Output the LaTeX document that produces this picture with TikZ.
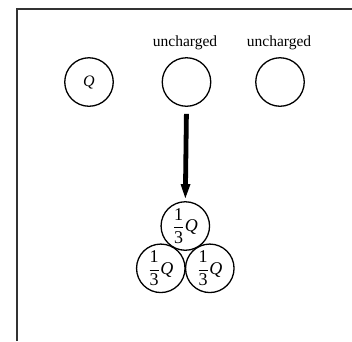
\documentclass[tikz,border=0pt]{standalone}
\usepackage{fontspec}
\setmainfont{Liberation Serif}
\usetikzlibrary{arrows.meta}
\tikzset{
  ball/.style={circle, draw, line width=1.3pt, minimum size=48.5pt, inner sep=0pt, font=\fontsize{15}{17}\selectfont},
  lbl/.style={font=\fontsize{15.5}{18}\selectfont, inner sep=0pt},
  frame/.style={line width=2pt, draw=black!80},
  bigarrow/.style={line width=4.8pt, -{Triangle[width=10pt,length=14pt,line width=0pt]}}
}
\newcommand{\third}{\fontsize{18}{20}\selectfont$\displaystyle\frac{\mbox{1}}{\mbox{3}}$\kern0.5pt\textit{Q}}
\begin{document}
\begin{tikzpicture}[x=1pt,y=-1pt]
\useasboundingbox (0,0) rectangle (352,341);
\coordinate (fa) at (16.5,341);
\coordinate (fb) at (16.5,9);
\coordinate (fc) at (352,9);
\draw[frame] (fa) -- (fb) -- (fc);
\node[ball] (q1) at (89,82) {\fontsize{16}{18}\selectfont\textit{Q}};
\node[ball] (q2) at (186.5,82) {};
\node[ball] (q3) at (280,82) {};
\node[lbl] (u2) at (185,43) {uncharged};
\node[lbl] (u3) at (279,43) {uncharged};
\node[ball] (b1) at (185.3,226) {\third};
\node[ball] (b2) at (160.8,268.3) {\third};
\node[ball] (b3) at (209.8,268.3) {\third};
\draw[bigarrow, shorten <=7pt, shorten >=3pt] (q2.south) -- (b1.north);
\end{tikzpicture}
\end{document}
